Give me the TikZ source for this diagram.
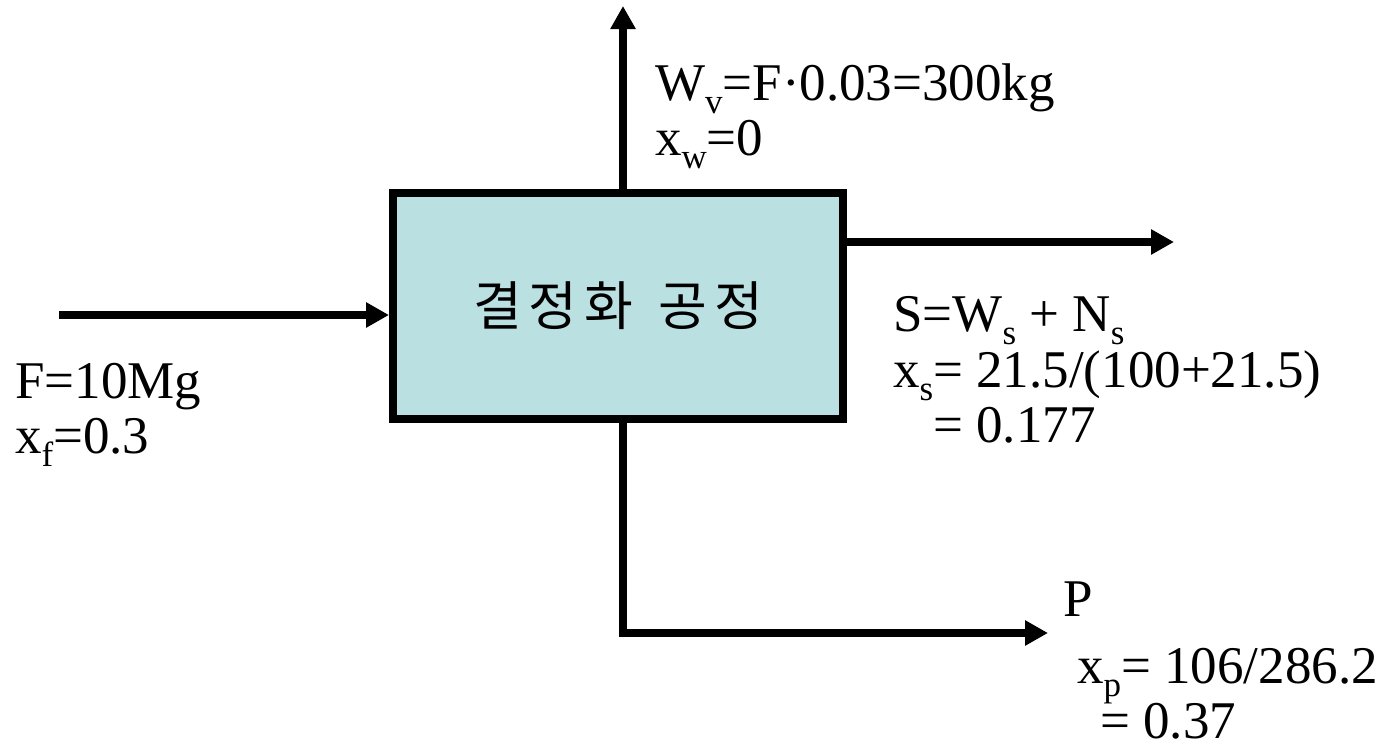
\documentclass[tikz,border=0pt]{standalone}
\usepackage{fontspec}
\setmainfont{Liberation Serif}
\newfontfamily\krfont{Noto Sans CJK KR}
\usetikzlibrary{arrows.meta}
\definecolor{boxfill}{RGB}{186,224,226}
\newcommand\lsub[1]{\raisebox{-0.26em}{\fontsize{35}{35}\selectfont #1}}
\newcommand\kg{\hspace{7pt}}
\tikzset{
  procbox/.style={draw=black, line width=8pt, fill=boxfill, minimum width=450pt, minimum height=226pt, inner sep=0pt,
    font=\krfont\fontsize{53}{53}\selectfont},
  flow/.style={line width=8pt, -{Triangle[length=23pt,width=24pt]}},
  lbl/.style={anchor=base west, inner sep=0pt, font=\fontsize{53}{55}\selectfont}
}
\begin{document}
\begin{tikzpicture}[x=1pt,y=-1pt]
\useasboundingbox (0,0) rectangle (1385,750);
\node[procbox] (proc) at (618,306) {\raisebox{-4pt}{결\kg 정\kg 화\kg\hspace{6pt} 공\kg 정}};
\coordinate (vtop) at (623,6);
\coordinate (sout) at (1174,242);
\coordinate (fin) at (59,315);
\coordinate (pout) at (1048,633);
\draw[flow] (proc.north -| vtop) -- (vtop);
\draw[flow] (proc.east |- sout) -- (sout);
\draw[flow] (fin) -- (proc.west |- fin);
\draw[flow] (proc.south -| vtop) |- (pout);
% labels
\node[lbl] (wv) at (655,100) {W\lsub{v}=F·0.03=300kg};
\node[lbl] (xw) at (655,155) {x\lsub{w}=0};
\node[lbl] (ff) at (15,398) {F=10Mg};
\node[lbl] (xf) at (15,453) {x\lsub{f}=0.3};
\node[lbl] (ss) at (893,331) {S=W\lsub{s} + N\lsub{s}};
\node[lbl] (xs) at (893,387) {x\lsub{s}= 21.5/(100+21.5)};
\node[lbl] (xs2) at (933,442) {= 0.177};
\node[lbl] (pp) at (1063,616) {P};
\node[lbl] (xp) at (1077,683) {x\lsub{p}= 106/286.2};
\node[lbl] (xp2) at (1100,738) {= 0.37};
\end{tikzpicture}
\end{document}
